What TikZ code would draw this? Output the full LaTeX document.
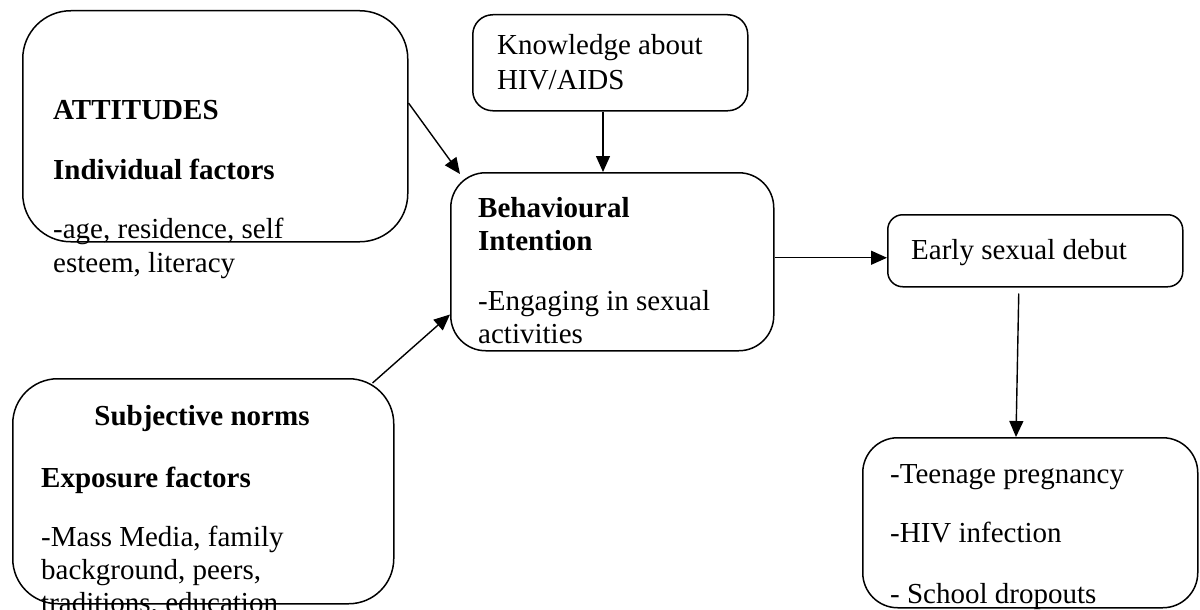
\documentclass[tikz,border=0pt]{standalone}
\usepackage{fontspec}
\setmainfont{Liberation Serif}
\usetikzlibrary{arrows.meta,calc}
\tikzset{
  box/.style={draw, line width=1.5pt, rectangle, inner sep=0pt, anchor=north west},
  txt/.style={anchor=base west, inner sep=0pt, font=\fontsize{29}{34}\selectfont},
  btxt/.style={txt, font=\fontsize{29}{34}\selectfont\bfseries},
  arr/.style={line width=1.4pt, -{Triangle[length=16pt,width=14pt]}}
}
\begin{document}
\begin{tikzpicture}[x=1pt,y=-1pt]
\useasboundingbox (0,0) rectangle (1200,610);
% boxes
\node[box, minimum width=385pt, minimum height=231pt, rounded corners=48pt] (A) at (22,10) {};
\node[box, minimum width=275pt, minimum height=96pt, rounded corners=20pt] (B) at (472,14) {};
\node[box, minimum width=323pt, minimum height=178pt, rounded corners=35pt] (C) at (450,172) {};
\node[box, minimum width=295pt, minimum height=72pt, rounded corners=15pt] (D) at (887,214) {};
\node[box, minimum width=335pt, minimum height=170pt, rounded corners=35pt] (E) at (862,437) {};
\node[box, minimum width=381pt, minimum height=225pt, rounded corners=45pt] (F) at (12,378) {};
% texts A
\node[btxt] (a1) at (53,119) {ATTITUDES};
\node[btxt] (a2) at (53,179) {Individual factors};
\node[txt] (a3) at (53,238) {-age, residence, self};
\node[txt] (a4) at (53,272) {esteem, literacy};
% texts B
\node[txt] (b1) at (497,55) {Knowledge about};
\node[txt] (b2) at (497,89) {HIV/AIDS};
% texts C
\node[btxt] (c1) at (478,217) {Behavioural};
\node[btxt] (c2) at (478,250) {Intention};
\node[txt] (c3) at (478,310) {-Engaging in sexual};
\node[txt] (c4) at (478,343) {activities};
% text D
\node[txt] (d1) at (911,259) {Early sexual debut};
% texts E
\node[txt] (e1) at (890,483) {-Teenage pregnancy};
\node[txt] (e2) at (890,542) {-HIV infection};
\node[txt] (e3) at (890,603) {- School dropouts};
% texts F
\node[btxt, anchor=base] (f1) at (202,425) {Subjective norms};
\node[btxt] (f2) at (41,487) {Exposure factors};
\node[txt] (f3) at (41,546) {-Mass Media, family};
\node[txt] (f4) at (41,579) {background, peers,};
\node[txt] (f5) at (41,612) {traditions, education};
% arrows
\draw[arr] ($(A.north east)+(0,93)$) -- ($(C.north west)+(10,2)$);
\draw[arr] ($(B.south west)+(131,0)$) -- ($(C.north west)+(153,0)$);
\draw[arr] ($(F.north east)+(-22,5)$) -- ($(C.south west)+(0,-37)$);
\draw[arr] ($(C.east)+(0,-4)$) -- ($(D.west)+(0,7)$);
\draw[arr] ($(D.south)+(-16.5,6)$) -- ($(E.north west)+(154,0)$);
\end{tikzpicture}
\end{document}
